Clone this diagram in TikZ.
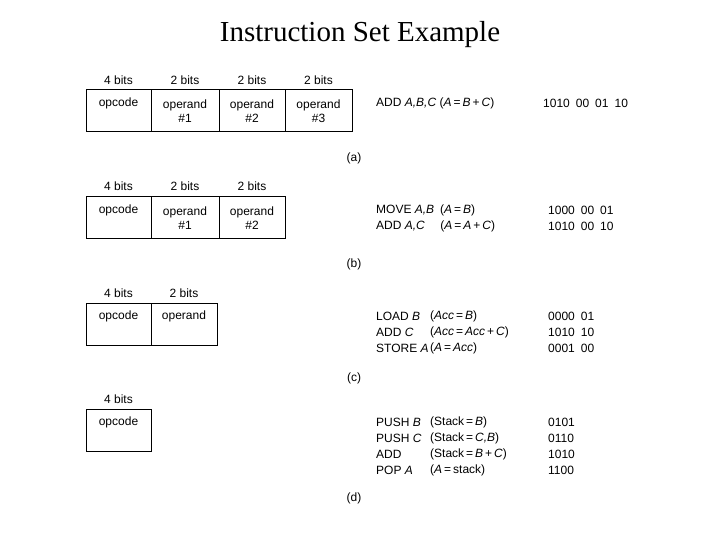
\documentclass[tikz,border=0pt]{standalone}
\usepackage{fontspec}
\setmainfont{Liberation Sans}
\newfontfamily\titlefont{Liberation Serif}
\begin{document}
\begin{tikzpicture}[x=1pt,y=-1pt,
  cell/.style={draw,line width=0.9pt,minimum height=42pt,anchor=north west,inner sep=0pt},
  lbl/.style={font=\fontsize{12}{14}\selectfont,inner sep=0pt},
  txt/.style={font=\fontsize{12}{16}\selectfont,inner sep=0pt,anchor=west}]
\useasboundingbox[fill=white] (0,0) rectangle (720,540);
\node[font=\titlefont\fontsize{29}{32}\selectfont] (title) at (360,35) {Instruction Set Example};
% (a)
\foreach \n/\x/\w/\t [count=\i] in {a1/86/65/{opcode\\\phantom{\#}}, a2/151/68/{operand\\\#1}, a3/219/66/{operand\\\#2}, a4/285/67/{operand\\\#3}}
  \node[cell,minimum width=\w pt,text depth=0pt] (\n) at (\x,89) {};
\foreach \n/\t in {a1/opcode,b1/opcode,c1/opcode,d1/opcode,c2/operand}{}
\node[lbl] (ta1) at (118.5,103) {opcode};
\node[lbl,align=center] (ta2) at (185,111) {operand\\\#1};
\node[lbl,align=center] (ta3) at (252,111) {operand\\\#2};
\node[lbl,align=center] (ta4) at (318.5,111) {operand\\\#3};
\node[lbl] (ba1) at (118.5,80) {4 bits};
\node[lbl] (ba2) at (185,80) {2 bits};
\node[lbl] (ba3) at (252,80) {2 bits};
\node[lbl] (ba4) at (318.5,80) {2 bits};
\node[txt] (ia) at (376,103) {ADD \textit{A,B,C} (\textit{A}\,=\,\textit{B}\,+\,\textit{C})};
\node[txt] (ca) at (543,103) {1010\enspace 00\enspace 01\enspace 10};
\node[lbl] (la) at (354,158) {(a)};
% (b)
\node[cell,minimum width=65pt] (b1) at (86,196) {};
\node[cell,minimum width=68pt] (b2) at (151,196) {};
\node[cell,minimum width=66pt] (b3) at (219,196) {};
\node[lbl] (tb1) at (118.5,210) {opcode};
\node[lbl,align=center] (tb2) at (185,218) {operand\\\#1};
\node[lbl,align=center] (tb3) at (252,218) {operand\\\#2};
\node[lbl] (bb1) at (118.5,186) {4 bits};
\node[lbl] (bb2) at (185,186) {2 bits};
\node[lbl] (bb3) at (252,186) {2 bits};
\node[txt] (ib1) at (376,210) {MOVE \textit{A,B}\enspace (\textit{A}\,=\,\textit{B})};
\node[txt] (ib2) at (376,226) {ADD \textit{A,C}\quad\ (\textit{A}\,=\,\textit{A}\,+\,\textit{C})};
\node[txt] (cb1) at (548,210) {1000\enspace 00\enspace 01};
\node[txt] (cb2) at (548,226) {1010\enspace 00\enspace 10};
\node[lbl] (lb) at (354,264) {(b)};
% (c)
\node[cell,minimum width=65pt] (c1) at (86,303) {};
\node[cell,minimum width=66pt] (c2) at (151,303) {};
\node[lbl] (tc1) at (118.5,316) {opcode};
\node[lbl] (tc2) at (184,316) {operand};
\node[lbl] (bc1) at (118.5,293) {4 bits};
\node[lbl] (bc2) at (184,293) {2 bits};
\node[txt] (ic1) at (376,316) {LOAD \textit{B}};
\node[txt] (ic2) at (376,332) {ADD \textit{C}};
\node[txt] (ic3) at (376,348) {STORE \textit{A}};
\node[txt] (pc1) at (430,316) {(\textit{Acc}\,=\,\textit{B})};
\node[txt] (pc2) at (430,332) {(\textit{Acc}\,=\,\textit{Acc}\,+\,\textit{C})};
\node[txt] (pc3) at (430,348) {(\textit{A}\,=\,\textit{Acc})};
\node[txt] (cc1) at (548,316) {0000\enspace 01};
\node[txt] (cc2) at (548,332) {1010\enspace 10};
\node[txt] (cc3) at (548,348) {0001\enspace 00};
\node[lbl] (lc) at (354,378) {(c)};
% (d)
\node[cell,minimum width=65pt] (d1) at (86,409) {};
\node[lbl] (td1) at (118.5,422) {opcode};
\node[lbl] (bd1) at (118.5,399) {4 bits};
\node[txt] (id1) at (376,422) {PUSH \textit{B}};
\node[txt] (id2) at (376,438) {PUSH \textit{C}};
\node[txt] (id3) at (376,454) {ADD};
\node[txt] (id4) at (376,470) {POP \textit{A}};
\node[txt] (pd1) at (430,422) {(Stack\,=\,\textit{B})};
\node[txt] (pd2) at (430,438) {(Stack\,=\,\textit{C,B})};
\node[txt] (pd3) at (430,454) {(Stack\,=\,\textit{B}\,+\,\textit{C})};
\node[txt] (pd4) at (430,470) {(\textit{A}\,=\,stack)};
\node[txt] (cd1) at (548,422) {0101};
\node[txt] (cd2) at (548,438) {0110};
\node[txt] (cd3) at (548,454) {1010};
\node[txt] (cd4) at (548,470) {1100};
\node[lbl] (ld) at (354,498) {(d)};
\end{tikzpicture}
\end{document}
